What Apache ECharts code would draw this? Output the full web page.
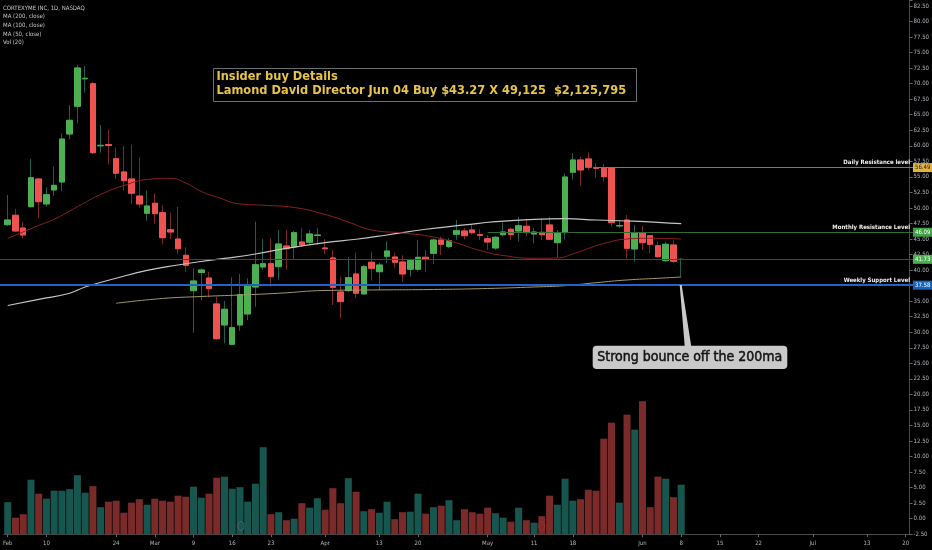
<!DOCTYPE html>
<html><head><meta charset="utf-8">
<script src="https://cdn.jsdelivr.net/npm/echarts@6/dist/echarts.min.js"></script>
<style>html,body{margin:0;padding:0;background:#000;}#c{width:932px;height:550px;}</style>
</head><body><div id="c"></div>
<script>
// ---- categories (trading days, 2020) ----
const dates = [
'02-03','02-04','02-05','02-06','02-07','02-10','02-11','02-12','02-13','02-14','02-18','02-19','02-20','02-21','02-24','02-25','02-26','02-27','02-28',
'03-02','03-03','03-04','03-05','03-06','03-09','03-10','03-11','03-12','03-13','03-16','03-17','03-18','03-19','03-20','03-23','03-24','03-25','03-26','03-27','03-30','03-31',
'04-01','04-02','04-03','04-06','04-07','04-08','04-09','04-13','04-14','04-15','04-16','04-17','04-20','04-21','04-22','04-23','04-24','04-27','04-28','04-29','04-30',
'05-01','05-04','05-05','05-06','05-07','05-08','05-11','05-12','05-13','05-14','05-15','05-18','05-19','05-20','05-21','05-22','05-26','05-27','05-28','05-29',
'06-01','06-02','06-03','06-04','06-05','06-08','06-09','06-10','06-11','06-12','06-15','06-16','06-17','06-18','06-19','06-22','06-23','06-24','06-25','06-26','06-29','06-30',
'07-01','07-02','07-06','07-07','07-08','07-09','07-10','07-13','07-14','07-15','07-16','07-17','07-20'];
const tickDates = ['02-03','02-10','02-24','03-02','03-09','03-16','03-23','04-01','04-13','04-20','05-01','05-11','05-18','06-01','06-08','06-15','06-22','07-01','07-13','07-20'];
const tickTexts = ['Feb','10','24','Mar','9','16','23','Apr','13','20','May','11','18','Jun','8','15','22','Jul','13','20'];

// ---- OHLC ----
const open = [47.31,48.82,46.77,50.20,54.66,50.64,52.89,54.18,61.90,66.36,
70.78,69.99,60.00,60.21,57.93,55.79,54.66,51.92,49.14,50.75,
49.24,46.50,45.00,42.38,36.69,39.61,38.73,34.55,31.17,28.06,
31.17,32.94,37.28,40.50,41.03,40.55,43.88,43.72,44.52,44.47,
45.57,43.56,41.95,36.48,36.69,39.37,36.16,41.26,39.74,42.22,
42.11,41.30,40.13,40.13,42.06,42.70,44.84,43.77,45.76,46.29,
46.45,45.70,45.05,43.56,45.70,46.57,46.29,47.05,45.81,46.08,
47.26,44.41,46.02,55.74,57.72,57.88,56.48,56.48,56.48,47.10,
48.06,43.40,46.02,45.54,43.93,41.51,44.04,41.70];
const close = [48.06,46.29,45.65,54.87,51.01,52.13,53.64,61.09,64.10,72.52,
70.86,58.89,60.08,60.05,55.58,54.39,52.36,50.64,50.31,49.08,
45.21,46.13,43.44,40.77,38.25,40.02,37.01,28.96,33.69,30.73,
36.04,37.55,40.87,41.03,38.94,44.20,43.44,46.02,44.04,45.81,
45.65,43.43,37.23,34.92,38.78,36.27,40.55,40.29,40.82,43.07,
41.26,39.37,41.58,42.06,41.74,44.84,44.15,44.73,46.34,45.54,
46.02,45.60,44.52,45.28,46.13,45.70,47.14,46.02,46.13,45.70,
44.96,45.92,54.98,57.72,56.11,56.54,56.38,55.03,47.63,47.18,
43.51,46.02,44.41,44.15,42.16,44.15,41.42,41.73];
const low = [47.10,46.13,45.12,50.07,48.34,50.20,51.97,52.73,61.05,63.62,
68.54,58.68,58.89,56.96,54.66,52.78,50.64,49.99,47.95,47.47,
44.15,45.00,42.54,39.74,29.93,35.19,35.62,28.75,28.22,27.87,
30.25,31.97,34.11,40.02,37.33,38.41,40.02,41.63,43.77,44.09,
44.04,42.59,34.39,32.25,36.48,35.46,36.00,38.30,36.80,41.10,
40.29,38.09,38.94,39.74,39.74,41.00,42.43,43.51,44.84,44.96,
45.65,44.84,43.24,43.24,45.38,44.84,44.57,45.49,44.31,44.84,
44.84,42.06,44.96,54.61,53.58,56.11,54.77,54.22,46.98,46.77,
41.90,41.35,43.24,42.70,41.95,41.30,41.10,38.94];
const high = [52.08,49.83,47.69,57.88,54.80,53.32,56.64,62.01,66.57,73.00,
72.84,70.27,63.35,62.66,59.76,59.97,60.18,58.15,52.78,52.36,
50.48,49.24,50.15,43.67,40.29,40.29,39.74,35.72,35.03,38.84,
39.37,38.68,47.79,45.00,45.12,46.45,46.45,46.29,46.73,46.45,
46.73,44.96,43.24,38.94,42.06,42.80,40.82,42.96,41.19,44.63,
42.80,42.38,41.79,44.84,43.24,45.12,45.38,45.12,48.06,46.73,
47.42,46.57,45.65,45.49,47.63,46.89,48.59,48.17,46.73,48.34,
48.59,46.45,55.58,58.79,58.25,58.95,57.19,57.07,56.60,48.06,
48.87,47.26,47.10,45.65,44.57,44.57,44.84,41.90];
// volume, thousands of shares (estimated)
const volume = [640,330,400,1090,810,710,870,870,900,1180,
830,960,540,650,670,430,630,700,590,710,
670,650,770,750,950,730,810,1130,1150,910,
940,650,1010,1740,400,440,280,310,620,530,
720,490,920,620,1120,850,460,500,430,650,
300,440,450,810,410,540,570,680,280,500,
440,410,530,420,330,250,530,280,230,360,
770,590,1110,670,700,890,870,1910,2230,630,
2390,2090,2660,540,1150,1110,740,990];

// ---- moving averages, read at sampled bars: [bar index, value] ----
const ma200 = [[14,34.66],[20,35.43],[25,35.75],[30,35.99],[35,36.27],[41,36.72],[47,36.80],[55,36.88],[62,37.04],[68,37.28],[72,37.49],[76,37.97],[80,38.41],[84,38.68],[87,38.89]];
const ma100 = [[0,34.30],[4,35.30],[8,36.27],[10,37.28],[14,38.68],[18,39.94],[22,40.82],[25,41.38],[28,41.87],[32,42.59],[36,43.48],[41,44.41],[45,44.96],[49,45.65],[54,46.57],[59,47.26],[63,47.79],[68,48.17],[72,48.27],[76,48.06],[80,47.90],[84,47.69],[87,47.47]];
const ma50 = [[0,45.09],[4,47.18],[6,48.17],[8,49.51],[10,50.88],[12,52.17],[15,53.61],[18,54.58],[21,54.77],[23,54.01],[25,52.65],[27,51.76],[30,50.64],[33,50.43],[37,50.07],[41,48.95],[44,47.74],[47,46.45],[51,45.97],[55,45.33],[58,44.36],[61,43.15],[64,42.35],[68,41.90],[71,41.95],[73,42.59],[75,43.48],[77,44.28],[80,45.00],[83,45.12],[87,45.00]];

// ---- horizontal levels ----
const levelValues = [56.49, 46.09, 41.73, 37.58];
const levelNames = ['Daily Resistance level', 'Monthly Resistance Level', '', 'Weekly Support Level'];
const levelStart = ['05-21', '05-01', null, null];

const NARROW = "'Liberation Sans Narrow','DejaVu Sans Condensed','Liberation Sans',sans-serif";
const chart = echarts.init(document.getElementById('c'));
const N = open.length;
const isUp = i => close[i] >= open[i];
const wickData = open.map((o, i) => [o, close[i], low[i], high[i]]);
const bodyData = open.map((o, i) => [o, close[i], Math.min(o, close[i]), Math.max(o, close[i])]);
const volData = volume.map((v, i) => ({value: v, itemStyle: {color: isUp(i) ? '#17564f' : '#7b2a2a'}}));

const option = {
  backgroundColor: '#000',
  animation: false,
  grid: {left: 0, right: 19, top: 0, bottom: 15.8},
  xAxis: {
    type: 'category', data: dates, boundaryGap: true,
    axisLine: {onZero: false, lineStyle: {color: '#4a4a4a'}},
    axisTick: {show: true, alignWithLabel: true, length: 3, lineStyle: {color: '#666'},
      interval: (i, v) => tickDates.includes(v)},
    axisLabel: {interval: (i, v) => tickDates.includes(v), formatter: v => tickTexts[tickDates.indexOf(v)],
      color: '#b2b5be', fontSize: 6, margin: 6, fontFamily: NARROW},
    splitLine: {show: false}
  },
  yAxis: [{
    type: 'value', position: 'right', min: -2.5, max: 83.46, interval: 2.5,
    axisLine: {show: true, lineStyle: {color: '#4a4a4a'}},
    axisTick: {show: true, length: 3, lineStyle: {color: '#666'}},
    axisLabel: {color: '#b2b5be', fontSize: 6, margin: 4, fontFamily: NARROW,
      formatter: v => Math.abs(v / 2.5 - Math.round(v / 2.5)) < 1e-6 ? v.toFixed(2) : ''},
    splitLine: {show: false}
  }, {
    type: 'value', show: false, min: 0, max: 10684, splitLine: {show: false}
  }],
  series: [
    {type: 'bar', yAxisIndex: 1, data: volData, barWidth: 7, z: 1, silent: true},
    {type: 'candlestick', data: wickData, barWidth: 6, z: 2, silent: true,
      itemStyle: {color: '#1d5e52', color0: '#7a2626', borderColor: '#1d5e52', borderColor0: '#7a2626', borderWidth: 1}},
    {type: 'candlestick', data: bodyData, barWidth: 6, z: 3, silent: true,
      itemStyle: {color: '#4caf50', color0: '#ef5350', borderColor: '#4caf50', borderColor0: '#ef5350', borderWidth: 1}},
    {type: 'line', data: ma200, smooth: true, showSymbol: false, z: 4, silent: true, lineStyle: {color: '#a39866', width: 1}},
    {type: 'line', data: ma100, smooth: true, showSymbol: false, z: 4, silent: true, lineStyle: {color: '#c4c4c4', width: 1.2}},
    {type: 'line', data: ma50, smooth: true, showSymbol: false, z: 4, silent: true, lineStyle: {color: '#8c1f1f', width: 1}},
    {type: 'line', data: [], z: 6, silent: true}
  ]
};
chart.setOption(option);

// ---- second pass: levels and annotations positioned through the axes ----
const px = (i, v) => chart.convertToPixel({seriesIndex: 2}, [i, v]);
const rightX = chart.getWidth() - 19;
const lineColors = ['#a8702a', '#2f6e33', '#25573a', '#1f62c8'];
const lineWidths = [1, 1, 1, 2];
const boxColors = ['#e3b341', '#43a047', '#4caf50', '#1565c0'];
const boxText = ['#1a1a1a', '#fff', '#fff', '#fff'];
const ml = [];
levelValues.forEach((v, k) => {
  const y = px(0, v)[1];
  const sx = levelStart[k] ? px(dates.indexOf(levelStart[k]), v)[0] : 0;
  ml.push([{x: sx, y: y, lineStyle: {color: lineColors[k], width: lineWidths[k], type: 'solid'},
    label: {show: !!levelNames[k], position: 'insideEndTop', distance: [3, 2], formatter: levelNames[k],
      color: '#f0f0f0', fontSize: 6, fontWeight: 'bold', fontFamily: NARROW}}, {x: rightX, y: y}]);
  ml.push([{x: rightX - 1, y: y, lineStyle: {color: 'rgba(0,0,0,0)', width: 1},
    label: {show: true, position: 'end', distance: 0, formatter: v.toFixed(2), backgroundColor: boxColors[k],
      color: boxText[k], fontSize: 6, padding: [2, 2, 1, 2], fontFamily: NARROW}}, {x: rightX, y: y}]);
});

const anchor = px(N - 1, levelValues[3]);
const legendLines = ['CORTEXYME INC, 1D, NASDAQ', 'MA (200, close)', 'MA (100, close)', 'MA (50, close)', 'Vol (20)'];
const graphics = legendLines.map((t, k) => ({type: 'text', x: 3, y: 8 + k * 8.65, silent: true,
  style: {text: t, fill: '#c8c8c8', font: '6px ' + NARROW, verticalAlign: 'middle'}}));
graphics.push(
  {type: 'rect', shape: {x: 213.5, y: 68.5, width: 423, height: 33}, silent: true,
    style: {fill: '#000', stroke: '#6e6e6e', lineWidth: 1}},
  {type: 'text', x: 216.5, y: 77, silent: true, style: {text: 'Insider buy Details', fill: '#e6c34a', font: 'bold 12.7px ' + NARROW, verticalAlign: 'middle'}},
  {type: 'text', x: 216.5, y: 90.5, silent: true, style: {text: 'Lamond David Director Jun 04 Buy $43.27 X 49,125  $2,125,795', fill: '#e6c34a', font: 'bold 12.7px ' + NARROW, verticalAlign: 'middle'}},
  {type: 'polygon', silent: true, z: 10, shape: {points: [[anchor[0] - 1.5, anchor[1]], [anchor[0] + 0.5, anchor[1]], [anchor[0] + 10, 346], [anchor[0] + 3.5, 346]]},
    style: {fill: '#c9c9c9'}},
  {type: 'rect', z: 10, silent: true, shape: {x: 592.7, y: 345.7, width: 194.6, height: 23.3, r: 4}, style: {fill: '#c9c9c9'}},
  {type: 'text', z: 11, x: 597.3, y: 357, silent: true, style: {text: 'Strong bounce off the 200ma', fill: '#141414', font: '14px ' + NARROW, verticalAlign: 'middle', stroke: '#141414', lineWidth: 0.5}},
  {type: 'ellipse', z: 20, silent: true, shape: {cx: px(dates.indexOf('03-17'), 0)[0] + 1, cy: 526, rx: 3, ry: 4.5}, style: {fill: 'none', stroke: '#56625f', lineWidth: 1}},
  {type: 'ellipse', z: 20, silent: true, shape: {cx: px(dates.indexOf('05-12'), 0)[0], cy: 526, rx: 3, ry: 4.5}, style: {fill: 'none', stroke: '#9a2f2f', lineWidth: 1}}
);

chart.setOption({
  series: [{}, {}, {}, {}, {}, {}, {markLine: {symbol: 'none', silent: true, animation: false, data: ml}}],
  graphic: graphics
});
</script>
</body></html>
